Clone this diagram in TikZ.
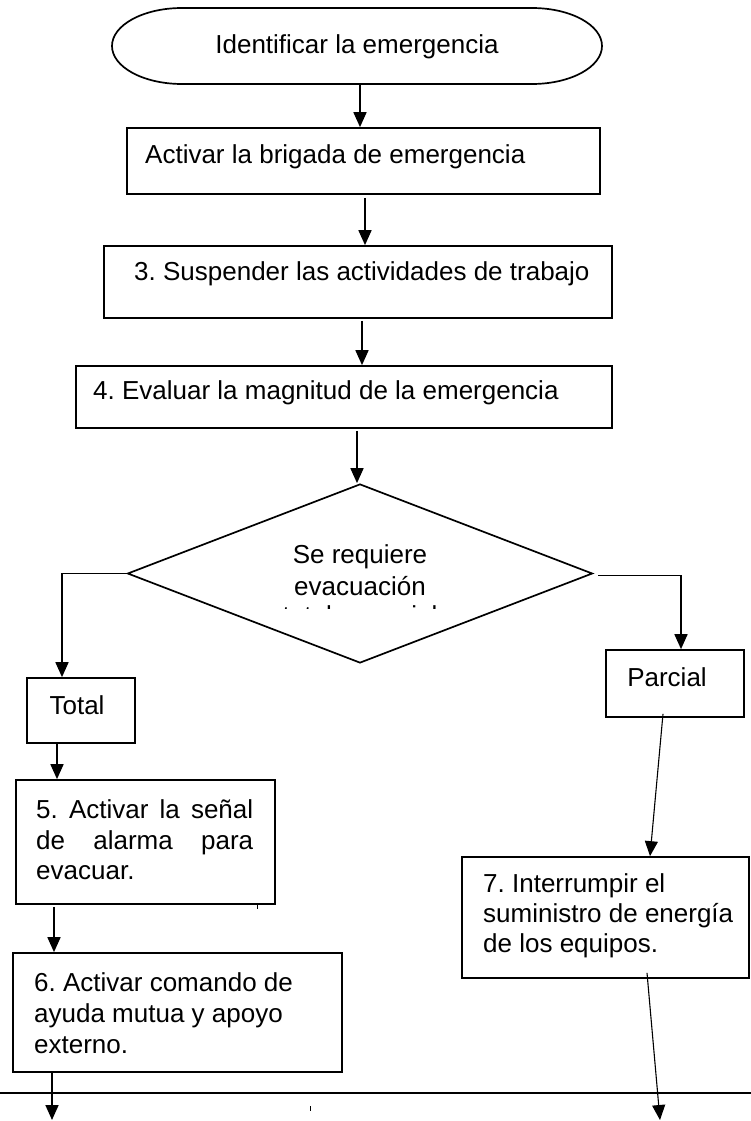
\documentclass[tikz,border=0pt]{standalone}
\usepackage{fontspec}
\setmainfont{Liberation Sans}
\usetikzlibrary{arrows.meta,shapes.geometric,calc}
\frenchspacing
\begin{document}
\begin{tikzpicture}[x=1pt,y=-1pt,
  box/.style={draw,line width=1.7pt,inner sep=0pt},
  hid/.style={inner sep=0pt},
  lbl/.style={inner sep=0pt,font=\fontsize{26}{30}\selectfont},
  arr/.style={line width=1.7pt,-{Triangle[length=15pt,width=13pt]}},
  ln/.style={line width=1.7pt}]
\useasboundingbox[fill=white] (0,0) rectangle (751,1121);

% terminal
\node[hid,minimum width=490pt,minimum height=76pt] (t) at (357,46) {};
\draw[ln] (182,8) -- (532,8) arc[start angle=-90,end angle=90,x radius=70,y radius=38]
  -- (182,84) arc[start angle=90,end angle=270,x radius=70,y radius=38] -- cycle;
\node[lbl,anchor=base] (tt) at (357,54) {Identificar la emergencia};

% boxes
\node[box,minimum width=473pt,minimum height=66pt] (b2) at (363.5,161) {};
\node[lbl,anchor=base west] (b2t) at (145,164) {Activar la brigada de emergencia};
\node[box,minimum width=508pt,minimum height=72pt] (b3) at (358,282) {};
\node[lbl,anchor=base west] (b3t) at (134,280) {3. Suspender las actividades de trabajo};
\node[box,minimum width=536pt,minimum height=62pt] (b4) at (344,397) {};
\node[lbl,anchor=base west] (b4t) at (93,399) {4. Evaluar la magnitud de la emergencia};

% decision
\node[diamond,draw,line width=1.7pt,inner sep=0pt,minimum width=465pt,minimum height=179pt] (d) at (360,573.5) {};
\node[lbl,anchor=base] (d1) at (360,563) {Se requiere};
\node[lbl,anchor=base] (d2) at (360,595) {evacuación};
\begin{scope}
\clip (250,604) rectangle (470,608.5);
\node[lbl,anchor=base] (d3) at (360,624) {total o parcial};
\end{scope}

% branches
\node[box,minimum width=108pt,minimum height=65pt] (tot) at (81,710.5) {};
\node[lbl,anchor=base] (tott) at (77,714) {Total};
\node[box,minimum width=138pt,minimum height=67pt] (par) at (675,683.5) {};
\node[lbl,anchor=base] (part) at (667,686) {Parcial};

\node[box,minimum width=259pt,minimum height=124pt] (b5) at (145.5,842) {};
\node[lbl,anchor=base west] (b5a) at (36,818) {\hbox to 217pt{5.\hfill Activar\hfill la\hfill señal}};
\node[lbl,anchor=base west] (b5b) at (36,849) {\hbox to 217pt{de\hfill alarma\hfill para}};
\node[lbl,anchor=base west] (b5c) at (36,879) {evacuar.};

\node[box,minimum width=329pt,minimum height=119pt] (b6) at (177.5,1012.5) {};
\node[lbl,anchor=base west] (b6a) at (34,991) {6. Activar comando de};
\node[lbl,anchor=base west] (b6b) at (34,1022) {ayuda mutua y apoyo};
\node[lbl,anchor=base west] (b6c) at (34,1053) {externo.};

\node[box,minimum width=287pt,minimum height=121pt] (b7) at (605.5,917.5) {};
\node[lbl,anchor=base west] (b7a) at (483,892) {7. Interrumpir el};
\node[lbl,anchor=base west] (b7b) at (483,922) {suministro de energía};
\node[lbl,anchor=base west] (b7c) at (483,952) {de los equipos.};

% free ends
\coordinate (e1) at (52,1120);
\coordinate (e2) at (660,1120);
\coordinate (h1) at (0,1093);
\coordinate (h2) at (751,1093);

% connectors
\draw[arr] ([xshift=3pt]t.south) -- ([xshift=3pt]t.south |- b2.north);
\draw[arr] ([xshift=1.5pt,yshift=-3pt]b2.south) -- ([xshift=1.5pt]b2.south |- b3.north);
\draw[arr] ([xshift=4pt,yshift=-2pt]b3.south) -- ([xshift=4pt]b3.south |- b4.north);
\draw[arr] ([xshift=13pt,yshift=-2pt]b4.south) -- ([xshift=13pt]b4.south |- d.north);
\draw[arr] (d.west) -| ([xshift=-19pt]tot.north);
\draw[arr] ([shift={(5pt,-2pt)}]d.east) -| ([xshift=6pt]par.north);
\draw[arr] ([xshift=-24pt]tot.south) -- ([xshift=-24pt]tot.south |- b5.north);
\draw[arr] ([xshift=-91.5pt,yshift=-2pt]b5.south) -- ([xshift=-91.5pt]b5.south |- b6.north);
\draw[arr] ([xshift=-125.5pt]b6.south) -- (e1);
\draw[arr,line width=1.1pt] ([shift={(-12pt,4pt)}]par.south) -- ([xshift=44.5pt]b7.north);
\draw[arr,line width=1.1pt] ([shift={(41.5pt,6pt)}]b7.south) -- (e2);
\draw[ln] (h1) -- (h2);

% stray marks
\fill (256.5,903) rectangle (258,909);
\fill (309.5,1106) rectangle (311,1111);
\end{tikzpicture}
\end{document}
